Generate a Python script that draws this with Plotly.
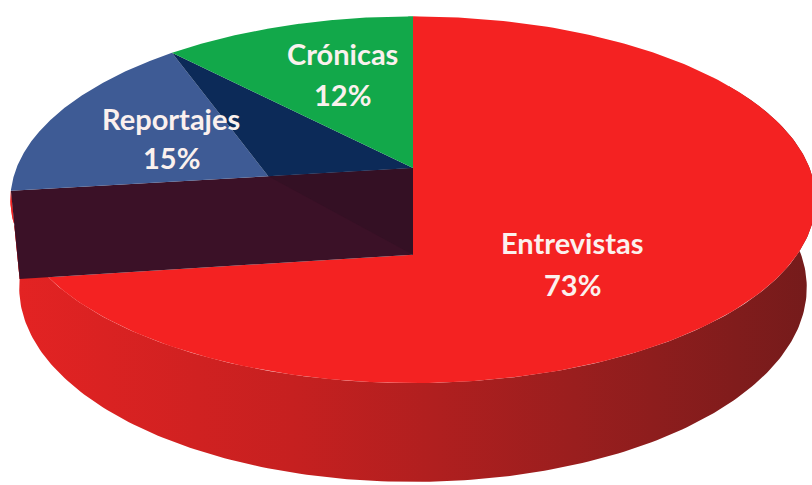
import numpy as np
import plotly.graph_objects as go

# Share of each genre (percent)
categories = ["Entrevistas", "Reportajes", "Crónicas"]
percentages = [73, 15, 12]

# ---- styling / camera for the 3-D pie (pixel space of the 812x485 canvas) ----
W, H = 812, 485
CX, CY = 413, 168            # where the pie centre lands on screen
ELEV = np.radians(26.65)     # camera elevation
DIST = 5.17                  # camera distance, in pie radii
FOCAL = 2050.0               # focal length in pixels
THICK = 0.25                 # pie thickness, in pie radii
BLUE_APEX_T = 0.36           # apex of the blue wedge along the cut edge
N = 240

top_colors = {"Entrevistas": "#f42222", "Reportajes": "#3e5b95", "Crónicas": "#12a84a"}
label_pos = {"Entrevistas": (572, 242, 284), "Reportajes": (171, 118, 157), "Crónicas": (342, 53, 94)}
FONT = dict(family="Lato, 'Open Sans', sans-serif", size=29, color="#fbf1ee")


def project(X, Y, Z):
    """Perspective projection; Y points away from the viewer, Z up."""
    sE, cE = np.sin(ELEV), np.cos(ELEV)
    v = Y * sE + Z * cE
    w = DIST + Y * cE - Z * sE
    return CX + FOCAL * X / w, CY - FOCAL * v / w


def rim(theta_deg, Z=0.0):
    t = np.radians(theta_deg)
    return project(np.sin(t), np.cos(t), Z)


def arc(t0, t1, Z=0.0):
    xs, ys = rim(np.linspace(t0, t1, N), Z)
    return list(xs), list(ys)


# slice angles, clockwise from 12 o'clock
total = float(sum(percentages))
ends = np.cumsum(percentages) / total * 360.0
starts = np.concatenate([[0.0], ends[:-1]])
ang = {c: (s, e) for c, s, e in zip(categories, starts, ends)}

r0, r1 = ang["Entrevistas"]
b0, b1 = ang["Reportajes"]
g0, g1 = ang["Crónicas"]

Cg = project(0.0, 0.0, 0.0)
Cr = project(0.0, 0.0, -THICK)
cut_top = rim(r1)
cut_bot = rim(r1, -THICK)
Pb = (Cg[0] + BLUE_APEX_T * (cut_top[0] - Cg[0]), Cg[1] + BLUE_APEX_T * (cut_top[1] - Cg[1]))
bg_edge = rim(b1)

fig = go.Figure()


def poly(xs, ys, color=None, gradient=None):
    xs = list(xs) + [xs[0]]
    ys = list(ys) + [ys[0]]
    kw = dict(x=xs, y=ys, mode="lines", line=dict(width=0), fill="toself",
              hoverinfo="skip", showlegend=False)
    if gradient is not None:
        kw["fillgradient"] = gradient
    else:
        kw["fillcolor"] = color
    fig.add_trace(go.Scatter(**kw))


# outer wall of the large wedge
wx_t, wy_t = arc(60, r1)
wx_b, wy_b = arc(r1, 60, -THICK)
poly(wx_t + wx_b, wy_t + wy_b,
     gradient=dict(type="horizontal",
                   colorscale=[[0, "#e42323"], [0.35, "#c62020"], [0.7, "#9a1e1e"], [1, "#741b1b"]]))

# top face of the large wedge
ax, ay = arc(r0, r1)
poly([Cr[0]] + ax + [cut_bot[0]], [Cr[1]] + ay + [cut_bot[1]], top_colors["Entrevistas"])

# inner radial wall under the two small wedges
poly([cut_top[0], Cg[0], Cr[0], cut_bot[0]], [cut_top[1], Cg[1], Cr[1], cut_bot[1]], "#3b1127")
poly([Pb[0], Cg[0], Cr[0]], [Pb[1], Cg[1], Cr[1]], "#341024")

# blue wedge top and its side
bx, by = arc(b0, b1)
poly([Pb[0]] + bx, [Pb[1]] + by, top_colors["Reportajes"])
poly([bg_edge[0], Cg[0], Pb[0]], [bg_edge[1], Cg[1], Pb[1]], "#0c2a58")

# green wedge top
gx, gy = arc(g0, g1)
poly([Cg[0]] + gx, [Cg[1]] + gy, top_colors["Crónicas"])

# labels
for c, p in zip(categories, percentages):
    x, y_name, y_pct = label_pos[c]
    fig.add_annotation(x=x, y=y_name, text=f"<b>{c}</b>", showarrow=False, font=FONT,
                       xanchor="center", yanchor="middle")
    fig.add_annotation(x=x, y=y_pct, text=f"<b>{p}%</b>", showarrow=False, font=FONT,
                       xanchor="center", yanchor="middle")

fig.update_xaxes(range=[0, W], visible=False, fixedrange=True)
fig.update_yaxes(range=[H, 0], visible=False, fixedrange=True)
fig.update_layout(width=W, height=H, margin=dict(l=0, r=0, t=0, b=0),
                  paper_bgcolor="white", plot_bgcolor="white")

fig.write_html("out.html", config={"displayModeBar": False})
